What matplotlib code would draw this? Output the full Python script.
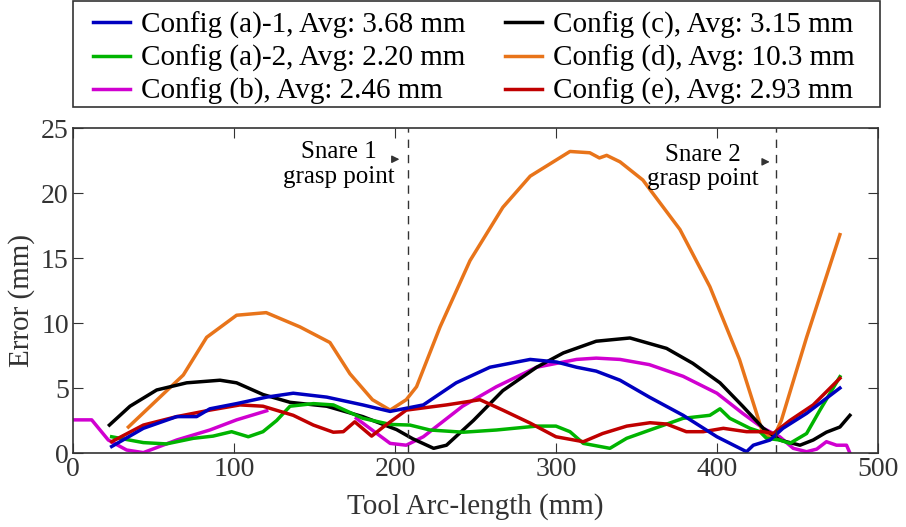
import matplotlib.pyplot as plt
from matplotlib.patches import Rectangle
import numpy as np

plt.rcParams['font.family'] = ['Liberation Serif', 'DejaVu Serif']

# Config (a)-1
a1_x = [24, 43.7, 64.4, 76.8, 85, 101.6, 120.3, 136.8, 157.6, 180, 197, 217.6, 238, 259, 284, 300.4,
        312.8, 325, 339.8, 358, 379, 400, 418.4, 422.6, 433, 441, 455.7, 476.4]
a1_y = [0.5, 1.9, 2.8, 2.8, 3.4, 3.8, 4.3, 4.6, 4.3, 3.7, 3.2, 3.7, 5.4, 6.6, 7.2, 7.0,
        6.6, 6.3, 5.6, 4.3, 2.9, 1.25, 0.1, 0.6, 1.0, 1.9, 3.05, 5.0]

# Config (a)-2
a2_x = [24, 43.7, 58, 74.7, 87, 98.5, 108.9, 118, 126.5, 134.8, 149.3, 161.7, 180, 197, 209.3, 221.7,
        242.4, 263, 288, 300, 308.7, 317, 333.5, 343.9, 358.4, 379, 395.6, 401.9, 408, 420.5, 426.7,
        430.8, 439, 445.3, 455.7, 464, 476.4]
a2_y = [1.25, 0.8, 0.7, 1.13, 1.3, 1.64, 1.25, 1.64, 2.5, 3.6, 3.8, 3.7, 2.67, 2.2, 2.15, 1.77,
        1.6, 1.77, 2.07, 2.07, 1.64, 0.74, 0.36, 1.13, 1.77, 2.67, 2.9, 3.4, 2.67, 1.9, 1.64,
        1.13, 1.0, 0.74, 1.5, 3.3, 5.87]

# Config (b)
b_x = [0, 11.6, 21.9, 33.3, 43.7, 64.4, 85, 101.6, 120.3, 148, 176, 197, 207, 217.6, 242, 263, 288,
       304.6, 312.8, 325, 339.8, 358, 379, 400, 416, 428.8, 439, 447.4, 455.7, 462, 468, 474.3, 480.5, 482.6]
b_y = [2.55, 2.55, 1.0, 0.23, 0.03, 1.0, 1.77, 2.55, 3.25, np.nan, 2.67, 0.74, 0.6, 1.25, 3.6, 5.1, 6.6,
       7.0, 7.2, 7.3, 7.2, 6.8, 5.9, 4.6, 3.05, 1.9, 1.25, 0.36, 0.1, 0.3, 0.87, 0.6, 0.6, 0.0]

# Config (c)
c_x = [22.6, 35.4, 52, 70.6, 91.3, 101.6, 118, 134.8, 157.6, 180, 201, 211, 224, 232, 248.7, 267,
       288, 304.6, 325, 346, 368.7, 385, 401.9, 416, 428.8, 439, 451.6, 459.8, 468, 476.4, 482.6]
c_y = [2.15, 3.6, 4.85, 5.4, 5.6, 5.4, 4.5, 3.9, 3.6, 2.8, 1.8, 1.1, 0.36, 0.6, 2.5, 4.8,
       6.6, 7.7, 8.6, 8.85, 8.05, 6.9, 5.4, 3.6, 1.9, 1.0, 0.6, 1.0, 1.6, 2.0, 2.9]

# Config (d)
d_x = [34.4, 68.5, 83, 101.6, 120, 141, 159.6, 172, 186, 197, 207, 213.4, 228, 246.6, 267, 284,
       308.7, 321, 327, 331.5, 339.8, 354, 377, 395.6, 414, 428.6, 435, 440, 455.7, 476.4]
d_y = [2.0, 6.0, 8.9, 10.6, 10.8, 9.7, 8.5, 6.1, 4.1, 3.3, 4.1, 5.1, 9.7, 14.8, 18.9, 21.3,
       23.2, 23.1, 22.7, 22.9, 22.4, 21.0, 17.2, 12.8, 7.2, 1.5, 1.15, 2.5, 8.9, 16.8]

# Config (e)
e_x = [24, 43.7, 64.4, 85, 103.7, 118, 136.8, 149.3, 161.7, 167.9, 175, 185.5, 192.7, 207, 232,
       252.8, 267, 284, 300, 317, 329, 344, 358.4, 368.7, 381, 391.5, 404, 418.4, 428.8, 435,
       445.3, 459.8, 476.4]
e_y = [0.87, 2.15, 2.8, 3.3, 3.7, 3.6, 2.9, 2.15, 1.6, 1.64, 2.4, 1.3, 2.0, 3.3, 3.7,
       4.1, 3.3, 2.3, 1.25, 0.87, 1.5, 2.07, 2.33, 2.23, 1.64, 1.64, 1.9, 1.64, 1.64, 1.5,
       2.5, 3.7, 5.75]

labels = ['Config (a)-1, Avg: 3.68 mm', 'Config (a)-2, Avg: 2.20 mm', 'Config (b), Avg: 2.46 mm',
          'Config (c), Avg: 3.15 mm', 'Config (d), Avg: 10.3 mm', 'Config (e), Avg: 2.93 mm']
colors = ['#0000C0', '#00B400', '#D000D0', '#000000', '#E8741A', '#C00000']

snare_x = [207.8, 436.6]

fig = plt.figure(figsize=(9.06, 5.27), dpi=100)
ax = fig.add_axes([0.0806, 0.1404, 0.8884, 0.6166])

series = [(a1_x, a1_y), (a2_x, a2_y), (b_x, b_y), (c_x, c_y), (d_x, d_y), (e_x, e_y)]
handles = [None] * 6
for i in [2, 4, 3, 1, 5, 0]:
    xs, ys = series[i]
    h, = ax.plot(xs, ys, color=colors[i], lw=2.5, label=labels[i])
    handles[i] = h

for sx in snare_x:
    ax.axvline(sx, color='#333333', lw=1, ls=(0, (6, 5)))

ax.text(200, 22.2, 'Snare 1\ngrasp point', ha='right', va='center', multialignment='center',
        fontsize=18, linespacing=1.15)
ax.annotate('', xy=(204.5, 22.6), xytext=(197.5, 22.6),
            arrowprops=dict(arrowstyle='-|>', color='#333333', lw=1, mutation_scale=11))
ax.text(426, 22.0, 'Snare 2\ngrasp point', ha='right', va='center', multialignment='center',
        fontsize=18, linespacing=1.15)
ax.annotate('', xy=(434.5, 22.4), xytext=(427.5, 22.4),
            arrowprops=dict(arrowstyle='-|>', color='#333333', lw=1, mutation_scale=11))

ax.set_xlim(0, 500)
ax.set_ylim(0, 25)
ax.set_xticks([0, 100, 200, 300, 400, 500])
ax.set_yticks([0, 5, 10, 15, 20, 25])
ax.tick_params(direction='in', top=True, right=True, labelsize=20, length=7, color='#333333', pad=3)
for sp in ax.spines.values():
    sp.set_linewidth(1.2)
    sp.set_color('#333333')
ax.set_xlabel('Tool Arc-length (mm)', fontsize=21, color='#333333', labelpad=8)
ax.set_ylabel('Error (mm)', fontsize=21, color='#333333')
ax.yaxis.set_label_coords(-0.047, 0.47)
for lab in ax.get_xticklabels() + ax.get_yticklabels():
    lab.set_color('#333333')

# legend box drawn separately so its padding can match the reference
fig.patches.append(Rectangle((73 / 906, 1 - 107 / 527), 807 / 906, 106.5 / 527,
                             transform=fig.transFigure, fill=False, ec='#333333', lw=1.2))
leg = fig.legend(handles=handles, loc='center left', bbox_to_anchor=(93 / 906, 1 - 58.5 / 527),
                 ncol=2, fontsize=21, frameon=False, handlelength=1.27, handletextpad=0.38,
                 labelspacing=0.2, borderpad=0.0, borderaxespad=0.0, columnspacing=1.34)

fig.savefig('out.png', dpi=100)
